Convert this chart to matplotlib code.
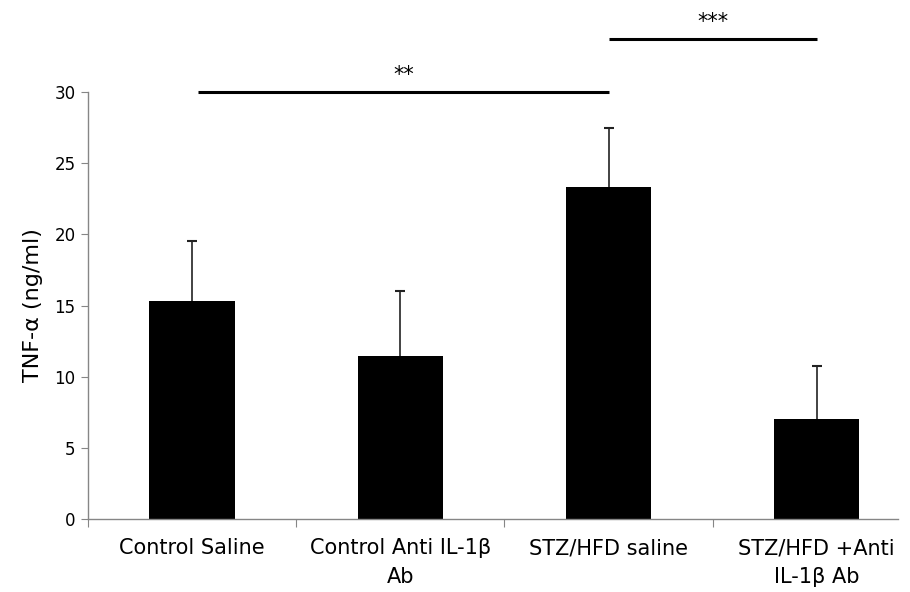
import matplotlib.pyplot as plt

# donnees
groupes = ["Control Saline", "Control Anti IL-1β\nAb", "STZ/HFD saline", "STZ/HFD +Anti\nIL-1β Ab"]
moyennes = [15.3, 11.45, 23.3, 7.0]
erreurs = [4.2, 4.55, 4.15, 3.75]
yticks = [0, 5, 10, 15, 20, 25, 30]

# barres de significativite : (debut, fin, hauteur, texte)
sig_debut = [0.03, 2.0]
sig_fin = [2.0, 3.0]
sig_hauteur = [30.0, 33.7]
sig_texte = ["**", "***"]

plt.rcParams['font.family'] = ['DejaVu Sans']
gris = "#868686"

fig = plt.figure(figsize=(9.1, 5.92), dpi=100)
ax = fig.add_axes([0.0967, 0.1233, 0.8901, 0.7213])

x = list(range(len(groupes)))
# barres d'erreur sous les barres : seul le haut depasse
eb = ax.errorbar(x, moyennes, yerr=[[0] * len(erreurs), erreurs], fmt="none",
                 ecolor="#222222", elinewidth=1.2, capsize=3.5, capthick=1.5, zorder=1)
eb[1][0].set_visible(False)  # pas de chapeau en bas
ax.bar(x, moyennes, width=0.41, color="black", zorder=2)

ax.set_xlim(-0.5, 3.39)
ax.set_ylim(0, 30)
ax.set_yticks(yticks)
ax.tick_params(axis="y", direction="out", length=5, color=gris, labelsize=12, pad=4)

# graduations x aux frontieres des categories, etiquettes au centre
ax.set_xticks([-0.5, 0.5, 1.5, 2.5])
ax.set_xticklabels([])
ax.tick_params(axis="x", direction="out", length=6, color=gris)
ax.set_xticks(x, minor=True)
ax.set_xticklabels(groupes, minor=True, fontsize=15, linespacing=1.55)
ax.tick_params(axis="x", which="minor", length=0, pad=14)

for s in ["top", "right"]:
    ax.spines[s].set_visible(False)
for s in ["left", "bottom"]:
    ax.spines[s].set_color(gris)
    ax.spines[s].set_linewidth(1.0)

ax.set_ylabel("TNF-α (ng/ml)", fontsize=16, labelpad=8)

for d, f, h, t in zip(sig_debut, sig_fin, sig_hauteur, sig_texte):
    ax.plot([d, f], [h, h], color="black", linewidth=2.2, clip_on=False, solid_capstyle="butt")
    ax.text((d + f) / 2, h + 0.5, t, ha="center", va="bottom", fontsize=15, clip_on=False)

fig.savefig("out.png", dpi=100)
